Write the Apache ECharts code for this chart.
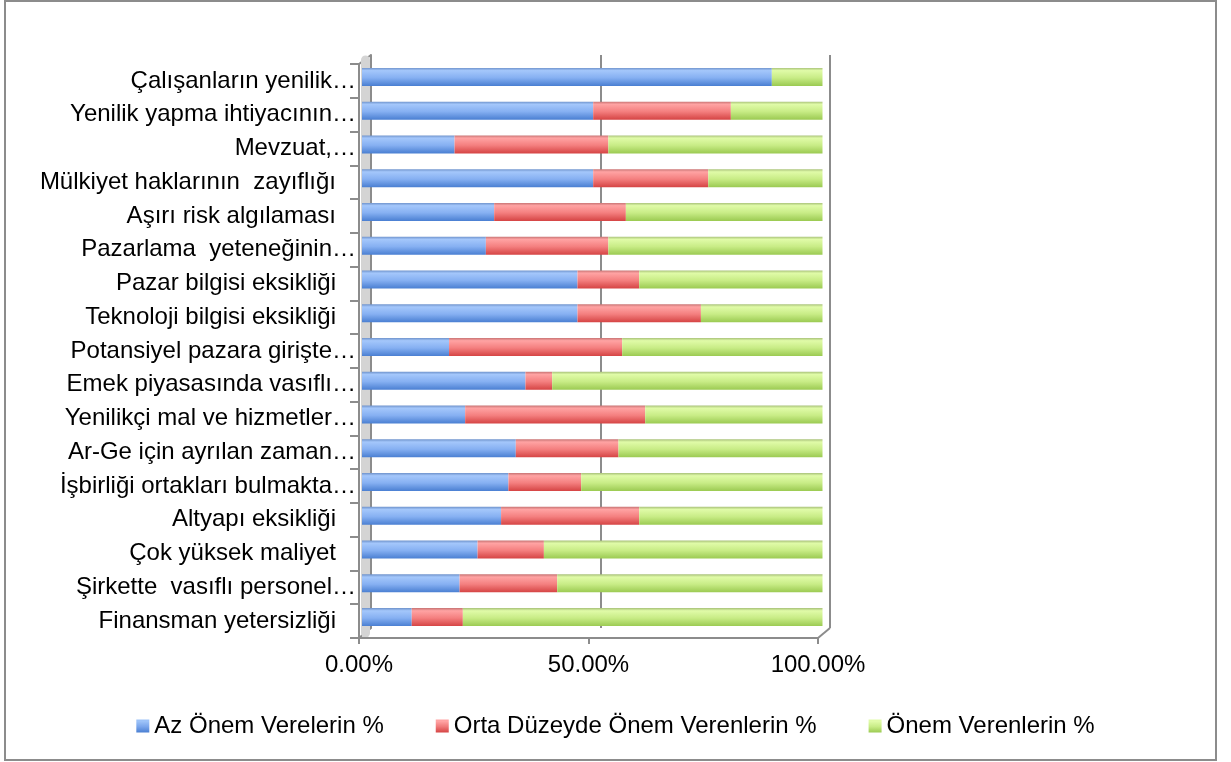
<!DOCTYPE html>
<html><head><meta charset="utf-8">
<script src="https://cdn.jsdelivr.net/npm/echarts@6/dist/echarts.min.js"></script>
<style>html,body{margin:0;padding:0;background:#fff}#c{width:1231px;height:762px}</style>
</head><body><div id="c"></div>
<script>
// categories, top to bottom
const categories = [
  "Çalışanların yenilik…",
  "Yenilik yapma ihtiyacının…",
  "Mevzuat,…",
  "Mülkiyet haklarının  zayıflığı",
  "Aşırı risk algılaması",
  "Pazarlama  yeteneğinin…",
  "Pazar bilgisi eksikliği",
  "Teknoloji bilgisi eksikliği",
  "Potansiyel pazara girişte…",
  "Emek piyasasında vasıflı…",
  "Yenilikçi mal ve hizmetler…",
  "Ar-Ge için ayrılan zaman…",
  "İşbirliği ortakları bulmakta…",
  "Altyapı eksikliği",
  "Çok yüksek maliyet",
  "Şirkette  vasıflı personel…",
  "Finansman yetersizliği"
];
const seriesNames = ["Az Önem Verelerin %", "Orta Düzeyde Önem Verenlerin %", "Önem Verenlerin %"];
const azOnem    = [89.0, 50.2, 20.1, 50.2, 28.7, 26.9, 46.8, 46.8, 18.9, 35.5, 22.4, 33.4, 31.8, 30.2, 25.1, 21.2, 10.8];
const ortaOnem  = [ 0.0, 29.9, 33.4, 25.0, 28.6, 26.6, 13.4, 26.8, 37.6,  5.8, 39.1, 22.3, 15.8, 30.0, 14.4, 21.2, 11.1];
const onem      = [11.0, 19.9, 46.5, 24.8, 42.7, 46.5, 39.8, 26.4, 43.5, 58.7, 38.5, 44.3, 52.4, 39.8, 60.5, 57.6, 78.1];
const xMin = 0, xMax = 100, xStep = 50;

const FONT = "'Liberation Sans', Arial, sans-serif";
const FS = 24;
function grad(c0, c1, c2, c3) {
  return new echarts.graphic.LinearGradient(0, 0, 0, 1, [
    {offset: 0, color: c0}, {offset: 0.15, color: c1}, {offset: 0.55, color: c2}, {offset: 1, color: c3}
  ]);
}
const colors = [
  grad('#6f93cc', '#a4c7fb', '#86b0f2', '#4a7fd2'),
  grad('#c87474', '#ffa3a3', '#f47f7f', '#d54444'),
  grad('#a9c27a', '#e0fba8', '#c8ec86', '#9bca52')
];
const legendColors = [
  grad('#9cc2f8', '#9cc2f8', '#7aa6ec', '#4a7fd2'),
  grad('#ffa3a3', '#ffa3a3', '#f07a7a', '#d54444'),
  grad('#e0fba8', '#e0fba8', '#c8ec86', '#9bca52')
];
const data = [azOnem, ortaOnem, onem];

const chart = echarts.init(document.getElementById('c'), null, {renderer: 'canvas'});
chart.setOption({
  animation: false,
  backgroundColor: '#fff',
  textStyle: {fontFamily: FONT},
  graphic: [
    {type: 'rect', shape: {x: 5, y: 1, width: 1211, height: 759},
      style: {fill: 'none', stroke: '#8c8c8c', lineWidth: 2}, z: -10},
    // 3D floor depth edges
    {type: 'line', shape: {x1: 359, y1: 638, x2: 371, y2: 628},
      style: {stroke: '#8c8c8c', lineWidth: 2}, z: -5},
    {type: 'line', shape: {x1: 818, y1: 638, x2: 830, y2: 628},
      style: {stroke: '#8c8c8c', lineWidth: 2}, z: -5},
    {type: 'line', shape: {x1: 359, y1: 64, x2: 371, y2: 55},
      style: {stroke: '#8c8c8c', lineWidth: 2}, z: -5}
  ],
  grid: [
    {left: 362, right: 408.5, top: 60, bottom: 128},   // bars
    {left: 371, right: 401, top: 55, bottom: 134},     // back wall
    {left: 359, right: 413, top: 64, bottom: 124},     // front axes
    {left: 365, right: 401, top: 60, bottom: 129}      // left wall fill
  ],
  xAxis: [
    {gridIndex: 0, type: 'value', min: xMin, max: xMax, interval: xStep, show: false},
    {gridIndex: 1, type: 'value', min: xMin, max: xMax, interval: xStep,
      axisLine: {show: false}, axisTick: {show: false}, axisLabel: {show: false},
      splitLine: {show: true, lineStyle: {color: '#8c8c8c', width: 2}}},
    {gridIndex: 2, type: 'value', min: xMin, max: xMax, interval: xStep,
      axisLine: {show: true, lineStyle: {color: '#8c8c8c', width: 2}},
      axisTick: {show: true, length: 6, lineStyle: {color: '#8c8c8c', width: 2}},
      splitLine: {show: false},
      axisLabel: {show: true, margin: 15, color: '#000', fontSize: FS, fontFamily: FONT,
        formatter: v => v.toFixed(2) + '%'}},
    {gridIndex: 3, type: 'value', min: xMin, max: xMax, show: false}
  ],
  yAxis: [
    {gridIndex: 0, type: 'category', data: categories, inverse: true, show: false},
    {gridIndex: 1, type: 'category', data: categories, inverse: true,
      axisLine: {show: true, lineStyle: {color: '#8c8c8c', width: 2}},
      axisTick: {show: false}, axisLabel: {show: false}},
    {gridIndex: 2, type: 'category', data: categories, inverse: true,
      axisLine: {show: true, lineStyle: {color: '#8c8c8c', width: 2}},
      axisTick: {show: true, length: 9, lineStyle: {color: '#8c8c8c', width: 2}},
      axisLabel: {show: true, margin: 3, color: '#000', fontSize: FS, fontFamily: FONT,
        formatter: v => v.endsWith('…') ? '{e|' + v + '}' : '{p|' + v + '}',
        rich: {
          e: {fontSize: FS, fontFamily: FONT, color: '#000'},
          p: {fontSize: FS, fontFamily: FONT, color: '#000', padding: [0, 20, 0, 0]}
        }}},
    {gridIndex: 3, type: 'category', data: categories, inverse: true,
      axisLine: {show: true, lineStyle: {color: '#d4d4d4', width: 9}},
      axisTick: {show: false}, axisLabel: {show: false}}
  ],
  legend: {
    left: 'center', top: 709, itemWidth: 13, itemHeight: 13, itemGap: 52,
    icon: 'rect',
    textStyle: {fontSize: FS, fontFamily: FONT, color: '#000'},
    data: seriesNames.map((n, i) => ({name: n, itemStyle: {color: legendColors[i]}}))
  },
  series: seriesNames.map((name, i) => ({
    name: name, type: 'bar', stack: 'total', xAxisIndex: 0, yAxisIndex: 0,
    barWidth: 18, data: data[i], z: 5,
    itemStyle: {color: colors[i]}
  }))
});
</script></body></html>
